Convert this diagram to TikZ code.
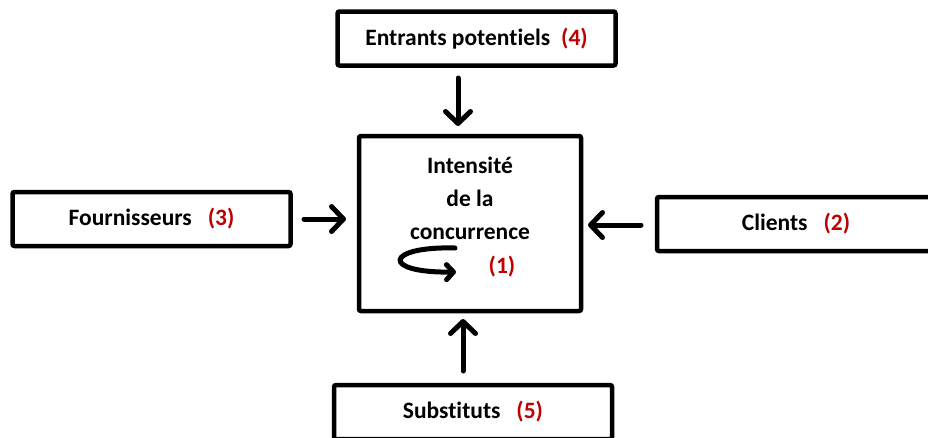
\documentclass[tikz,border=0pt]{standalone}
\usepackage{fontspec}
\setmainfont{Carlito}[RawFeature={-liga;-dlig}]
\usetikzlibrary{arrows.meta}
\definecolor{numred}{RGB}{192,0,0}
\tikzset{
  force/.style={draw=black, line width=4.5pt, rounded corners=2pt, fill=white,
    minimum width=278pt, minimum height=54pt, inner sep=0pt,
    font=\fontsize{23.5}{28}\selectfont\bfseries},
  push/.style={line width=5pt, line cap=round,
    -{Straight Barb[length=12pt, width=25pt, line width=5pt, round]}},
  num/.style={text=numred}
}
\newcommand{\numlab}[1]{\textcolor{numred}{(#1)}}
\begin{document}
\begin{tikzpicture}[x=1pt, y=-1pt]
\useasboundingbox (0,0) rectangle (928,437);
\clip (0,0) rectangle (928,437);

% central rivalry box
\node[force, minimum width=222pt, minimum height=175pt] (centre) at (470,223.5) {};
\node[font=\fontsize{23.5}{33}\selectfont\bfseries, align=center] (intens) at (470,198.5)
  {Intensité\\de la\\concurrence};
\node[font=\fontsize{23.5}{28}\selectfont\bfseries, num] (n1) at (502,267) {(1)};
\coordinate (curlA) at (455,248);
\coordinate (curlB) at (456,272);
\draw[line width=5pt, line cap=round,
  -{Straight Barb[length=7pt, width=15pt, line width=5pt, round]}]
  (curlA) .. controls (385,246) and (380,273) .. (curlB);

% the four surrounding forces
\node[force] (entrants) at (476.5,38.5) {Entrants potentiels\hspace{11pt}\numlab{4}};
\node[force] (fourn) at (151.5,219) {Fournisseurs\hspace{16pt}\numlab{3}};
\node[force] (clients) at (796,224) {Clients\hspace{16pt}\numlab{2}};
\node[force] (subst) at (473,412) {Substituts\hspace{16pt}\numlab{5}};

% pressure arrows towards the centre
\coordinate (eA) at (458,78);
\coordinate (eB) at (458,126);
\draw[push] (eA) -- (eB);
\coordinate (fA) at (304,219);
\coordinate (fB) at (346,219);
\draw[push] (fA) -- (fB);
\coordinate (cA) at (641,225);
\coordinate (cB) at (588,225);
\draw[push] (cA) -- (cB);
\coordinate (sA) at (463,371);
\coordinate (sB) at (463,319);
\draw[push] (sA) -- (sB);
\end{tikzpicture}
\end{document}
